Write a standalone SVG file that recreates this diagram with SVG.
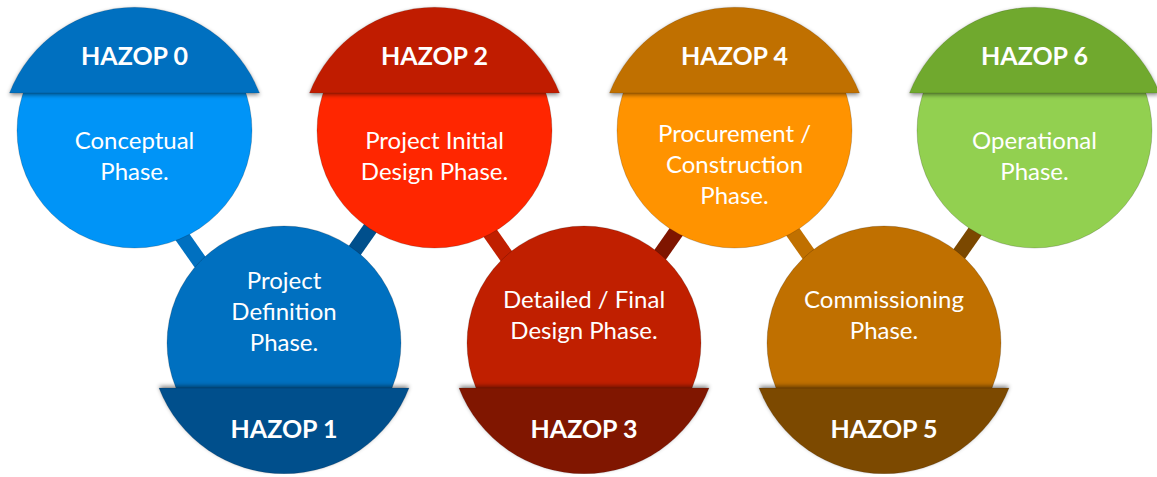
<svg xmlns="http://www.w3.org/2000/svg" width="1157" height="477" viewBox="0 0 1157 477">
  <defs>
    <style>
      .bar { stroke-width: 15; stroke-linecap: butt; fill: none; }
      .body { stroke: rgba(0,0,0,0.18); stroke-width: 1; }
      .cap { stroke: rgba(0,0,0,0.12); stroke-width: 1; }
      .capTop { filter: url(#shadowDown); }
      .capBot { filter: url(#shadowUp); }
      .title { font-family: Lato, "Liberation Sans", sans-serif; font-weight: 700; font-size: 25px; fill: #fff; text-anchor: middle; }
      .label { font-family: Lato, "Liberation Sans", sans-serif; font-weight: 400; font-size: 24px; fill: #fff; text-anchor: middle; }
    </style>
    <filter id="shadowDown" x="-10%" y="-10%" width="120%" height="130%">
      <feDropShadow dx="0" dy="2" stdDeviation="2" flood-color="#000" flood-opacity="0.45"/>
    </filter>
    <filter id="shadowUp" x="-10%" y="-30%" width="120%" height="130%">
      <feDropShadow dx="0" dy="-2" stdDeviation="2" flood-color="#000" flood-opacity="0.45"/>
    </filter>
  </defs>

  <rect width="1157" height="477" fill="#ffffff"/>

  <!-- links between neighbouring phases, drawn behind the circles -->
  <g id="connectors">
    <line class="bar" stroke="#0070c0" x1="172.9" y1="223.4" x2="213.1" y2="280.6"/>
    <line class="bar" stroke="#004f8c" x1="339.9" y1="271.6" x2="380.1" y2="214.4"/>
    <line class="bar" stroke="#c01f00" x1="481.9" y1="221.4" x2="522.1" y2="278.6"/>
    <line class="bar" stroke="#7f1500" x1="646.9" y1="273.6" x2="687.1" y2="216.4"/>
    <line class="bar" stroke="#c07000" x1="781.9" y1="216.4" x2="822.1" y2="273.6"/>
    <line class="bar" stroke="#7b4800" x1="946.9" y1="271.6" x2="987.1" y2="214.4"/>
  </g>

  <!-- HAZOP 0 -->
  <g id="hazop0">
    <circle class="body" cx="134.5" cy="130.5" r="117.5" fill="#0094f7"/>
    <path class="cap capTop" d="M9.5,93 A134,134 0 0 1 259.5,93 Z" fill="#0070c0"/>
    <text class="title" x="134.5" y="65">HAZOP 0</text>
    <text class="label" x="134.5" y="149">Conceptual</text>
    <text class="label" x="134.5" y="180">Phase.</text>
  </g>

  <!-- HAZOP 1 -->
  <g id="hazop1">
    <circle class="body" cx="284" cy="343" r="117" fill="#0070c0"/>
    <path class="cap capBot" d="M159,388 A134,134 0 0 0 409,388 Z" fill="#004f8c"/>
    <text class="title" x="284" y="438">HAZOP 1</text>
    <text class="label" x="284" y="289">Project</text>
    <text class="label" x="284" y="320">Definition</text>
    <text class="label" x="284" y="351">Phase.</text>
  </g>

  <!-- HAZOP 2 -->
  <g id="hazop2">
    <circle class="body" cx="434.5" cy="130.5" r="117.5" fill="#ff2600"/>
    <path class="cap capTop" d="M309.5,93 A134,134 0 0 1 559.5,93 Z" fill="#c01f00"/>
    <text class="title" x="434.5" y="65">HAZOP 2</text>
    <text class="label" x="434.5" y="149">Project Initial</text>
    <text class="label" x="434.5" y="180">Design Phase.</text>
  </g>

  <!-- HAZOP 3 -->
  <g id="hazop3">
    <circle class="body" cx="584" cy="343" r="117" fill="#c01f00"/>
    <path class="cap capBot" d="M459,388 A134,134 0 0 0 709,388 Z" fill="#801400"/>
    <text class="title" x="584" y="438">HAZOP 3</text>
    <text class="label" x="584" y="308">Detailed / Final</text>
    <text class="label" x="584" y="339">Design Phase.</text>
  </g>

  <!-- HAZOP 4 -->
  <g id="hazop4">
    <circle class="body" cx="734.5" cy="130.5" r="117.5" fill="#ff9300"/>
    <path class="cap capTop" d="M609.5,93 A134,134 0 0 1 859.5,93 Z" fill="#c07000"/>
    <text class="title" x="734.5" y="65">HAZOP 4</text>
    <text class="label" x="734.5" y="142">Procurement /</text>
    <text class="label" x="734.5" y="173">Construction</text>
    <text class="label" x="734.5" y="204">Phase.</text>
  </g>

  <!-- HAZOP 5 -->
  <g id="hazop5">
    <circle class="body" cx="884" cy="343" r="117" fill="#c07000"/>
    <path class="cap capBot" d="M759,388 A134,134 0 0 0 1009,388 Z" fill="#7b4800"/>
    <text class="title" x="884" y="438">HAZOP 5</text>
    <text class="label" x="884" y="308">Commissioning</text>
    <text class="label" x="884" y="339">Phase.</text>
  </g>

  <!-- HAZOP 6 -->
  <g id="hazop6">
    <circle class="body" cx="1034.5" cy="130.5" r="117.5" fill="#92d050"/>
    <path class="cap capTop" d="M909.5,93 A134,134 0 0 1 1159.5,93 Z" fill="#6fa92f"/>
    <text class="title" x="1034.5" y="65">HAZOP 6</text>
    <text class="label" x="1034.5" y="149">Operational</text>
    <text class="label" x="1034.5" y="180">Phase.</text>
  </g>
</svg>
